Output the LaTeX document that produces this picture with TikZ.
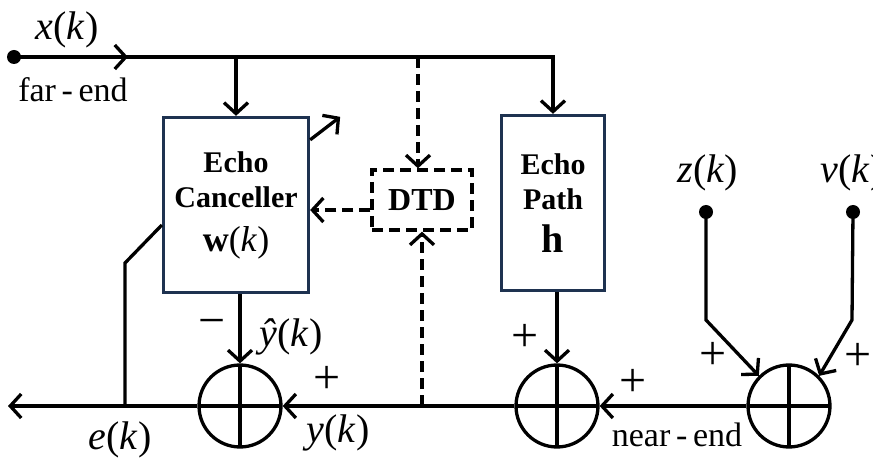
\documentclass[tikz,border=0pt]{standalone}
\usepackage{fontspec}
\setmainfont{Liberation Serif}
\usetikzlibrary{arrows.meta}
\definecolor{boxnavy}{RGB}{30,50,80}
\newcommand{\sig}[1]{\textit{#1}(\textit{k})}
\begin{document}
\begin{tikzpicture}[x=1pt,y=-1pt,line width=3.3pt,
    >={Straight Barb[length=11pt,width=24pt]},
    blockbox/.style={draw=boxnavy, line width=3.3pt, inner sep=0pt, align=center, font=\fontsize{30}{35}\selectfont\bfseries},
    sumnode/.style={circle, draw, minimum size=82pt, inner sep=0pt, path picture={\draw (path picture bounding box.north) -- (path picture bounding box.south) (path picture bounding box.west) -- (path picture bounding box.east);}},
    dotnode/.style={circle, fill, minimum size=14pt, inner sep=0pt},
    sigtext/.style={font=\fontsize{40}{40}\selectfont},
    signtext/.style={font=\fontsize{48}{48}\selectfont},
    endtext/.style={font=\fontsize{34}{34}\selectfont},
    dasharrow/.style={->, dash pattern=on 11pt off 6pt}]
  \useasboundingbox (0,0) rectangle (873,462);
  \node[dotnode] (xin) at (14,57) {};
  \node[blockbox, minimum width=145pt, minimum height=175pt] (canc) at (236,205) {Echo\\Canceller\\[9pt]{\fontsize{36}{36}\selectfont\textbf{w}\textmd{(\textit{k})}}};
  \node[blockbox, minimum width=103pt, minimum height=175pt] (echopath) at (553,203) {Echo\\Path\\[8pt]{\fontsize{40}{40}\selectfont h}};
  \node[blockbox, draw=black, dash pattern=on 11pt off 6pt, minimum width=100pt, minimum height=60pt, font=\fontsize{32}{32}\selectfont\bfseries] (dtd) at (422,200) {DTD};
  \node[sumnode] (sum1) at (240,406) {};
  \node[sumnode] (sum2) at (557,406) {};
  \node[sumnode] (sum3) at (789,406) {};
  \node[dotnode] (zin) at (706,212) {};
  \node[dotnode] (vin) at (853,212) {};
  \coordinate (tapw) at (236,57);
  \coordinate (tapd) at (418,57);
  \coordinate (taph) at (553,57);
  \coordinate (xarrow) at (128,57);
  \coordinate (eout) at (8,406);
  \coordinate (etap) at (125,406);
  \coordinate (ebend) at (125,263);
  \coordinate (ytap) at (422,406);
  \coordinate (zbend) at (706,320);
  \coordinate (vbend) at (852,320);
  \draw[->] (xin.center) -- (taph) -- (echopath.north);
  \draw[->] (xin.center) -- (xarrow);
  \draw[->] (tapw) -- (canc.north);
  \draw[dasharrow] (tapd) -- (tapd |- dtd.north);
  \draw[dasharrow] ([yshift=-10pt]dtd.west) -- ([yshift=-10pt]dtd.west -| canc.east);
  \draw[dasharrow] (ytap) -- (ytap |- dtd.south);
  \draw[->] ([yshift=-24pt]canc.north east) -- ++(30,-23);
  \draw (etap) -- (ebend) -- ([yshift=-20pt]canc.west);
  \draw[->] (canc.south -| sum1.north) -- (sum1.north);
  \draw[->] (echopath.south -| sum2.north) -- (sum2.north);
  \draw[->] (sum1.west) -- (eout);
  \draw[->] (sum2.west) -- (sum1.east);
  \draw[->] (sum3.west) -- (sum2.east);
  \draw[->] (zin.center) -- (zbend) -- (sum3.135);
  \draw[->] (vin.center) -- (vbend) -- (sum3.45);
  \node[sigtext] (xlabel) at (67,30) {\sig{x}};
  \node[endtext] (farend) at (73,90) {far\,-\,end};
  \node[sigtext] (yhatlabel) at (291,337) {\sig{ŷ}};
  \node[signtext] (minus) at (212,328) {−};
  \node[signtext] (plusy) at (327,380) {+};
  \node[sigtext] (ylabel) at (338,433) {\sig{y}};
  \node[sigtext] (elabel) at (120,440) {\sig{e}};
  \node[signtext] (plush) at (525,338) {+};
  \node[signtext] (plusnear) at (633,383) {+};
  \node[endtext] (nearend) at (677,435) {near\,-\,end};
  \node[signtext] (plusz) at (713,356) {+};
  \node[signtext] (plusv) at (858,357) {+};
  \node[sigtext] (zlabel) at (708,173) {\sig{z}};
  \node[sigtext] (vlabel) at (852,173) {\sig{v}};
\end{tikzpicture}
\end{document}
